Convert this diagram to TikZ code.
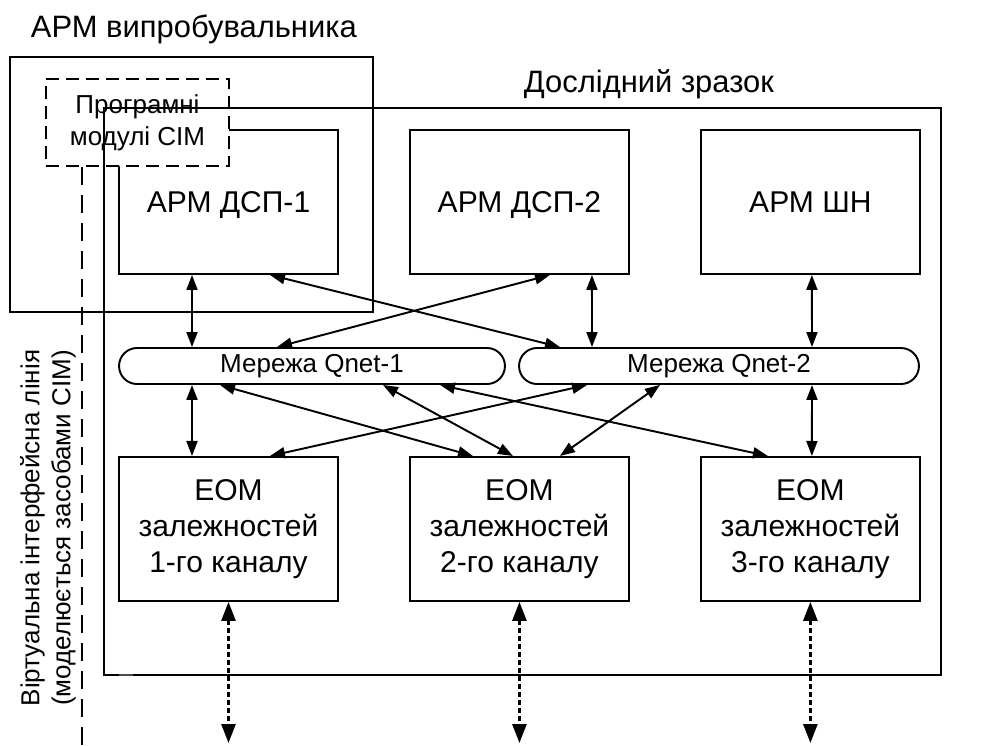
\documentclass[tikz,border=0pt]{standalone}
\usepackage{fontspec}
\setmainfont{Liberation Sans}
\usetikzlibrary{arrows.meta,calc}

\begin{document}
\begin{tikzpicture}[
  x=0.02cm, y=-0.02cm,
  line width=1.1pt,
  >={Triangle[length=0.3cm,width=0.22cm]},
  block/.style={rectangle, draw, minimum width=4.38cm, minimum height=2.88cm, inner sep=0pt, align=center, font=\fontsize{17.1}{20.5}\selectfont},
  armbox/.style={block, text height=12.2pt, text depth=0pt},
  net/.style={rectangle, draw, rounded corners=0.36cm, minimum height=0.72cm, inner sep=0pt, font=\fontsize{14.8}{17}\selectfont},
  title/.style={anchor=base west, inner sep=0pt, font=\fontsize{17.6}{21}\selectfont},
  link/.style={<->},
  extlink/.style={<->, line width=1.5pt, dash pattern=on 0.1cm off 0.06cm, >={Triangle[length=0.38cm,width=0.28cm]}},
  node distance=5.82cm
]
\useasboundingbox (0,0) rectangle (984,745);

\draw (10,57) rectangle (373,312);
\node[title] (armv) at (30,37) {АРМ випробувальника};
\node[title] (zrazok) at (523,92) {Дослідний зразок};

\node[armbox] (dsp1) at (228.5,202) {АРМ ДСП-1};
\node[armbox, right of=dsp1] (dsp2) {АРМ ДСП-2};
\node[armbox, right of=dsp2] (shn) {АРМ ШН};
\node[block, below of=dsp1, node distance=6.54cm] (eom1) {ЕОМ\\залежностей\\1-го каналу};
\node[block, right of=eom1] (eom2) {ЕОМ\\залежностей\\2-го каналу};
\node[block, right of=eom2] (eom3) {ЕОМ\\залежностей\\3-го каналу};
\node[net, minimum width=7.72cm] (net1) at (312,366) {Мережа Qnet-1};
\node[net, minimum width=8cm] (net2) at (719,366) {Мережа Qnet-2};

\draw[link] ($(dsp1.south)+(-36.5,0)$) -- ($(net1.north)+(-120,0)$);
\draw[link] ($(dsp1.south)+(41.5,0)$) -- ($(net2.north)+(-159,0)$);
\draw[link] ($(dsp2.south)+(30.5,0)$) -- ($(net1.north)+(-35,0)$);
\draw[link] ($(dsp2.south)+(72.5,0)$) -- ($(net2.north)+(-127,0)$);
\draw[link] ($(shn.south)+(1.5,0)$) -- ($(net2.north)+(93,0)$);
\draw[link] ($(net1.south)+(-120,0)$) -- ($(eom1.north)+(-36.5,0)$);
\draw[link] ($(net1.south)+(-92,0)$) -- ($(eom2.north)+(-46.5,0)$);
\draw[link] ($(net1.south)+(71,0)$) -- ($(eom2.north)+(-6.5,0)$);
\draw[link] ($(net1.south)+(128,0)$) -- ($(eom3.north)+(-42.5,0)$);
\draw[link] ($(net2.south)+(-132,0)$) -- ($(eom1.north)+(41.5,0)$);
\draw[link] ($(net2.south)+(-59,0)$) -- ($(eom2.north)+(40.5,0)$);
\draw[link] ($(net2.south)+(93,0)$) -- ($(eom3.north)+(1.5,0)$);

\coordinate (ext1) at (eom1.south |- 0,743);
\coordinate (ext2) at (eom2.south |- 0,743);
\coordinate (ext3) at (eom3.south |- 0,743);
\draw[extlink] (eom1.south) -- (ext1);
\draw[extlink] (eom2.south) -- (ext2);
\draw[extlink] (eom3.south) -- (ext3);

\node[draw, dash pattern=on 0.26cm off 0.14cm, fill=white, minimum width=3.66cm, minimum height=1.74cm, inner sep=0pt, align=center, font=\fontsize{14.8}{18.2}\selectfont] (sim) at (137.5,122.5) {Програмні\\модулі СІМ};
\draw (104,108) rectangle (941,675);
\draw[line width=1.6pt, gray!60!black] (119,675) -- (133,675);

\coordinate (vtop) at (82,0 |- sim.south);
\coordinate (vbot) at (82,745);
\draw[line width=1.5pt, dash pattern=on 0.36cm off 0.2cm] (vtop) -- (vbot);
\node[rotate=90, align=center, font=\fontsize{14.8}{17.6}\selectfont] (line) at (48,528) {Віртуальна інтерфейсна лінія\\(моделюється засобами СІМ)};
\end{tikzpicture}
\end{document}
